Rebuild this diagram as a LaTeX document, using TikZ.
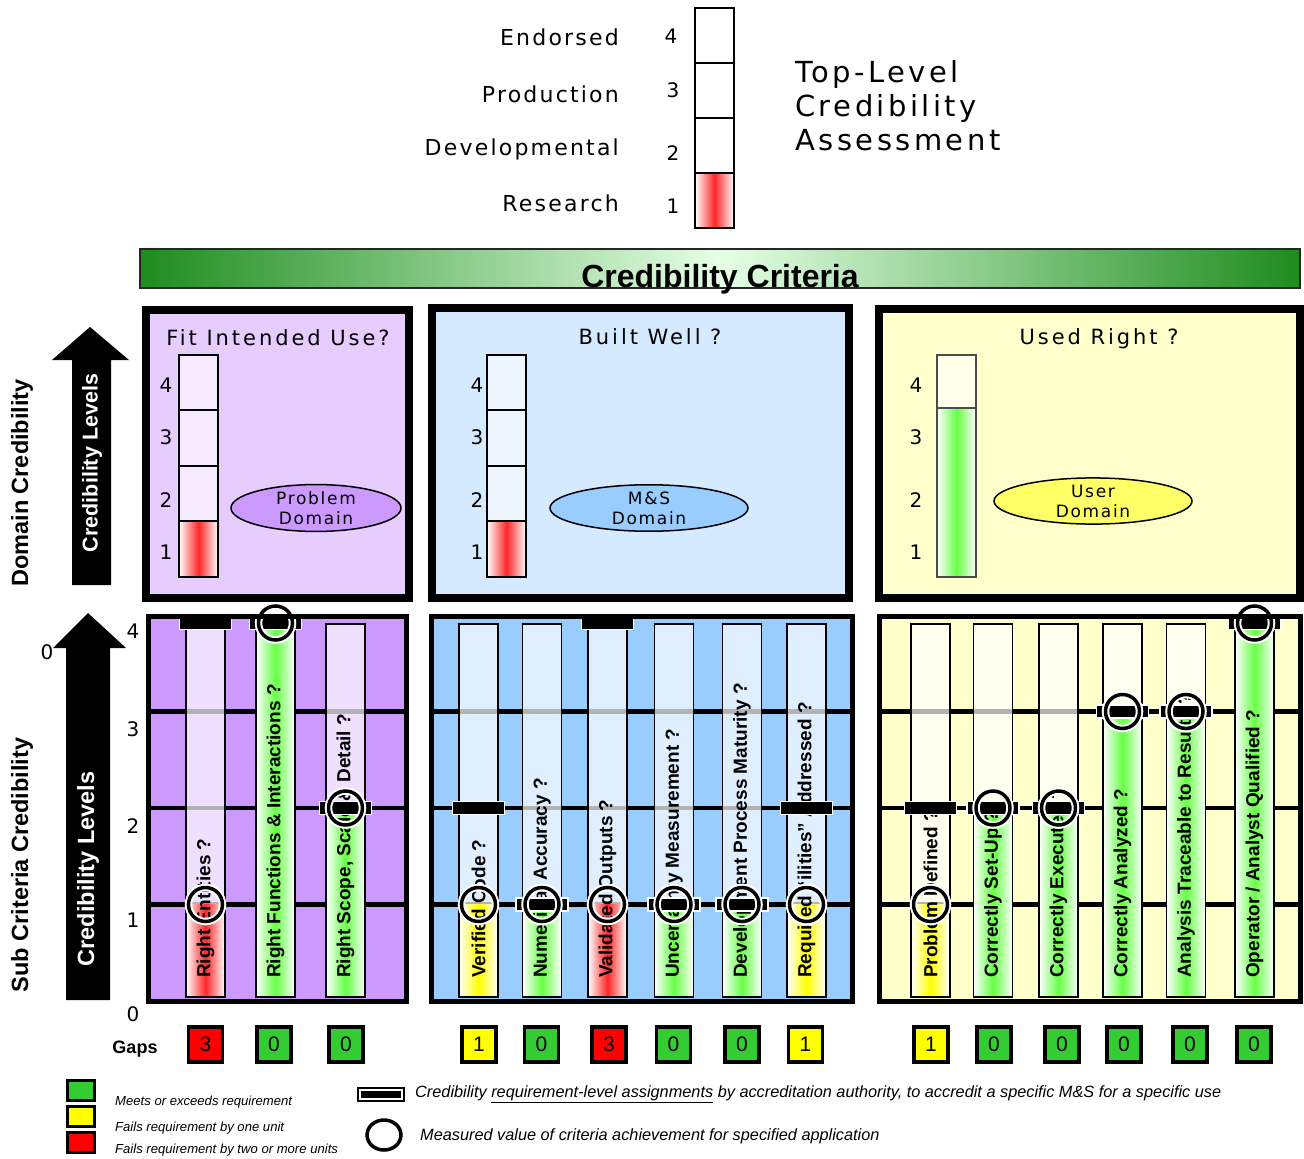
\documentclass[tikz,border=0pt]{standalone}
\usepackage{fontspec}
\setmainfont{Liberation Sans}
\newfontfamily\vfont[LetterSpace=10]{DejaVu Sans}
\newfontfamily\wfont[LetterSpace=14]{DejaVu Sans}
\newfontfamily\tfont[LetterSpace=12]{DejaVu Sans}
\newfontfamily\dfont{DejaVu Sans}
\usetikzlibrary{shapes.geometric}

\definecolor{purpleA}{HTML}{CC99FF}
\definecolor{purpleL}{HTML}{E6CCFF}
\definecolor{purpleE}{HTML}{CC99FF}
\definecolor{blueA}{HTML}{99CCFF}
\definecolor{blueL}{HTML}{D6EAFF}
\definecolor{blueE}{HTML}{99CCFF}
\definecolor{yellowA}{HTML}{FFFFCC}
\definecolor{yellowE}{HTML}{FFFF66}
\definecolor{okgreen}{HTML}{66FF44}
\definecolor{badred}{HTML}{FF2626}
\definecolor{warnyel}{HTML}{FFFF00}
\definecolor{gapgreen}{HTML}{33CC33}
\definecolor{gapred}{HTML}{FF0000}
\definecolor{gapyel}{HTML}{FFFF00}
\definecolor{bannergreen}{HTML}{1E8C1E}

\tikzset{
  barlabel/.style={rotate=90, anchor=west, inner sep=0pt,
    font=\fontsize{19}{22}\selectfont\bfseries},
  reqmark/.style={rectangle, fill=black, draw=white, line width=1.5pt,
    minimum width=52pt, minimum height=13pt, inner sep=0pt},
  measmark/.style={circle, minimum size=34pt, inner sep=0pt, draw=black,
    line width=3.5pt, preaction={draw=white, line width=7.5pt}},
  gapbox/.style={rectangle, draw=black, line width=3.5pt, minimum width=34pt,
    minimum height=35pt, inner sep=0pt, font=\fontsize{21}{24}\selectfont},
  axisnum/.style={inner sep=0pt, font=\dfont\fontsize{20}{24}\selectfont},
  domtitle/.style={anchor=base, inner sep=0pt, font=\wfont\fontsize{21}{24}\selectfont},
  domell/.style={ellipse, draw=black, line width=1.5pt, inner sep=0pt,
    align=center, font=\vfont\fontsize{17}{20}\selectfont},
  toplabel/.style={anchor=base east, inner sep=0pt, font=\vfont\fontsize{22}{24}\selectfont},
  sidelabel/.style={rotate=90, inner sep=0pt, font=\bfseries\fontsize{23.5}{26}\selectfont},
  legtext/.style={anchor=west, inner sep=0pt, font=\itshape\fontsize{13.1}{15}\selectfont},
  legtextb/.style={anchor=west, inner sep=0pt, font=\itshape\fontsize{16.3}{19}\selectfont},
}

% one sub-criterion column: id, x centre, measured level, fill colour,
% required level, label
\newcommand\critbar[6]{%
  \pgfmathsetmacro\yMeas{ifthenelse(#3==4,623,1001-96.5*#3)}%
  \pgfmathsetmacro\yReq{ifthenelse(#5==4,623,1001-96.5*#5)}%
  \pgfmathsetmacro\yFill{ifthenelse(#3==4,624,1001-96.5*#3)}%
  \fill[white, opacity=0.7] (#2-19.5,624) rectangle (#2+19.5,997);
  \shade[left color=white, right color=white, middle color=#4]
    (#2-19.5,\yFill) rectangle (#2+19.5,997);
  \draw[line width=1.8pt] (#2-19.5,624) rectangle (#2+19.5,997);
  \node[barlabel] (#1-t) at (#2,978) {#6};
  \node[reqmark] (#1-r) at (#2,\yReq) {};
  \node[measmark] (#1-m) at (#2,\yMeas) {};
}

% a four-level gauge: x left, fill colour of the achieved part, top of that part, border colour
\newcommand\gauge[4]{%
  \fill[white, opacity=0.6] (#1,355) rectangle (#1+39,577);
  \shade[left color=white, right color=white, middle color=#2] (#1,#3) rectangle (#1+39,577);
  \draw[line width=2.5pt, #4] (#1,355) rectangle (#1+39,577);
}

\begin{document}
\begin{tikzpicture}[x=1pt, y=-1pt]
\useasboundingbox (0,0) rectangle (1304,1159);
\fill[white] (0,0) rectangle (1304,1159);

% ---------- top-level gauge ----------
\fill[white] (695,8) rectangle (734,228);
\shade[left color=white, right color=white, middle color=badred] (695,173) rectangle (734,228);
\draw[line width=2.5pt] (695,8) rectangle (734,228);
\foreach \y in {63,118,173} \draw[line width=2.5pt] (695,\y) -- (734,\y);

\node[toplabel] (lvE) at (619,45) {Endorsed};
\node[toplabel] (lvP) at (619,102) {Production};
\node[toplabel] (lvD) at (619,155) {Developmental};
\node[toplabel] (lvR) at (619,211) {Research};
\node[axisnum, anchor=base] (tn4) at (671,43) {4};
\node[axisnum, anchor=base] (tn3) at (673,97) {3};
\node[axisnum, anchor=base] (tn2) at (673,160) {2};
\node[axisnum, anchor=base] (tn1) at (673,213) {1};

\node[anchor=base west, inner sep=0pt, font=\tfont\fontsize{29}{32}\selectfont] (tl1) at (795,82) {Top-Level};
\node[anchor=base west, inner sep=0pt, font=\tfont\fontsize{29}{32}\selectfont] (tl2) at (795,116) {Credibility};
\node[anchor=base west, inner sep=0pt, font=\tfont\fontsize{29}{32}\selectfont] (tl3) at (795,150) {Assessment};

% ---------- criteria banner ----------
\shade[left color=bannergreen, right color=bannergreen, middle color=white!90!green]
  (140,249) rectangle (1300,288);
\draw[line width=1.5pt, black!85] (140,249) rectangle (1300,288);
\node[anchor=base, inner sep=0pt, font=\bfseries\fontsize{32}{34}\selectfont] (crit) at (720,287) {Credibility Criteria};

% ---------- side arrows ----------
\fill[black] (72,585) -- (72,360) -- (52,360) -- (90,327) -- (129,360) -- (111,360) -- (111,585) -- cycle;
\node[sidelabel, text=white, font=\bfseries\fontsize{21.5}{24}\selectfont] (cl1) at (92,463) {Credibility Levels};
\node[sidelabel] (dc) at (22,483) {Domain Credibility};

\node[axisnum] (zeroL) at (47,652) {0};
\fill[black] (66,1000) -- (66,648) -- (53,648) -- (88,613) -- (126,648) -- (110,648) -- (110,1000) -- cycle;
\node[sidelabel, text=white] (cl2) at (88,869) {Credibility Levels};
\node[sidelabel] (scc) at (22,865) {Sub Criteria Credibility};

\node[axisnum] (an4) at (133,631) {4};
\node[axisnum] (an3) at (133,729) {3};
\node[axisnum] (an2) at (133,826) {2};
\node[axisnum] (an1) at (133,920) {1};
\node[axisnum] (an0) at (133,1014) {0};

% ---------- domain panels ----------
\fill[purpleL] (146,310) rectangle (409,598);
\draw[line width=8pt] (146,310) rectangle (409,598);
\node[domtitle] (t1) at (278,345) {Fit Intended Use?};
\gauge{179}{badred}{521}{black}
\foreach \y in {410,466,521} \draw[line width=2.5pt] (179,\y) -- (218,\y);
\node[axisnum] (p1n4) at (166,385) {4};
\node[axisnum] (p1n3) at (166,437) {3};
\node[axisnum] (p1n2) at (166,500) {2};
\node[axisnum] (p1n1) at (166,552) {1};
\node[domell, fill=purpleE, minimum width=170pt, minimum height=46pt] (e1) at (316,508) {Problem\\Domain};

\fill[blueL] (432,308) rectangle (849,598);
\draw[line width=8pt] (432,308) rectangle (849,598);
\node[domtitle] (t2) at (650,344) {Built Well ?};
\gauge{487}{badred}{521}{black}
\foreach \y in {410,466,521} \draw[line width=2.5pt] (487,\y) -- (526,\y);
\node[axisnum] (p2n4) at (477,385) {4};
\node[axisnum] (p2n3) at (477,437) {3};
\node[axisnum] (p2n2) at (477,500) {2};
\node[axisnum] (p2n1) at (477,552) {1};
\node[domell, fill=blueE, minimum width=198pt, minimum height=44pt] (e2) at (649,508) {M\&S\\Domain};

\fill[yellowA] (879,309) rectangle (1300,598);
\draw[line width=8pt] (879,309) rectangle (1300,598);
\node[domtitle] (t3) at (1099,344) {Used Right ?};
\gauge{937}{okgreen}{408}{black!70}
\draw[line width=2.5pt, black!70] (937,408) -- (976,408);
\node[axisnum] (p3n4) at (916,385) {4};
\node[axisnum] (p3n3) at (916,437) {3};
\node[axisnum] (p3n2) at (916,500) {2};
\node[axisnum] (p3n1) at (916,552) {1};
\node[domell, fill=yellowE, minimum width=198pt, minimum height=44pt] (e3) at (1093,501) {User\\Domain};

% ---------- sub-criteria panels ----------
\fill[purpleA] (148,616) rectangle (407,1002);
\foreach \v in {1,2,3} \draw[line width=4.5pt] (148,{1001-96.5*\v}) -- (407,{1001-96.5*\v});
\critbar{a1}{205.5}{1}{badred}{4}{Right Entities ?}
\critbar{a2}{275.5}{4}{okgreen}{4}{Right Functions \& Interactions ?}
\critbar{a3}{345.5}{2}{okgreen}{2}{Right Scope, Scale \& Detail ?}
\draw[line width=5pt] (148.5,616.5) rectangle (406.5,1001.5);

\fill[blueA] (431,616) rectangle (853,1002);
\foreach \v in {1,2,3} \draw[line width=4.5pt] (431,{1001-96.5*\v}) -- (853,{1001-96.5*\v});
\critbar{b1}{478.5}{1}{warnyel}{2}{Verified Code ?}
\critbar{b2}{542}{1}{okgreen}{1}{Numerical Accuracy ?}
\critbar{b3}{607.5}{1}{badred}{4}{Validated Outputs ?}
\critbar{b4}{674}{1}{okgreen}{1}{Uncertainty Measurement ?}
\critbar{b5}{742}{1}{okgreen}{1}{Development Process Maturity ?}
\critbar{b6}{806.5}{1}{warnyel}{2}{Required “ilities” Addressed ?}
\draw[line width=5pt] (431.5,616.5) rectangle (852.5,1001.5);

\fill[yellowA] (879,616) rectangle (1301,1002);
\foreach \v in {1,2,3} \draw[line width=4.5pt] (879,{1001-96.5*\v}) -- (1301,{1001-96.5*\v});
\critbar{c1}{930.5}{1}{warnyel}{2}{Problem Defined ?}
\critbar{c2}{993}{2}{okgreen}{2}{Correctly Set-Up ?}
\critbar{c3}{1058.5}{2}{okgreen}{2}{Correctly Executed ?}
\critbar{c4}{1122.5}{3}{okgreen}{3}{Correctly Analyzed ?}
\critbar{c5}{1186}{3}{okgreen}{3}{Analysis Traceable to Results ?}
\critbar{c6}{1254.5}{4}{okgreen}{4}{Operator / Analyst Qualified ?}
\draw[line width=5pt] (879.5,616.5) rectangle (1300.5,1001.5);

% ---------- gaps ----------
\node[inner sep=0pt, font=\bfseries\fontsize{18}{20}\selectfont] (gaps) at (135,1049) {Gaps};
\node[gapbox, fill=gapred] (g1) at (205.5,1044.5) {3};
\node[gapbox, fill=gapgreen] (g2) at (274,1044.5) {0};
\node[gapbox, fill=gapgreen] (g3) at (346,1044.5) {0};
\node[gapbox, fill=gapyel] (g4) at (479,1044.5) {1};
\node[gapbox, fill=gapgreen] (g5) at (541.5,1044.5) {0};
\node[gapbox, fill=gapred] (g6) at (609,1044.5) {3};
\node[gapbox, fill=gapgreen] (g7) at (673.5,1044.5) {0};
\node[gapbox, fill=gapgreen] (g8) at (742,1044.5) {0};
\node[gapbox, fill=gapyel] (g9) at (805.5,1044.5) {1};
\node[gapbox, fill=gapyel] (g10) at (931,1044.5) {1};
\node[gapbox, fill=gapgreen] (g11) at (994,1044.5) {0};
\node[gapbox, fill=gapgreen] (g12) at (1062,1044.5) {0};
\node[gapbox, fill=gapgreen] (g13) at (1124,1044.5) {0};
\node[gapbox, fill=gapgreen] (g14) at (1190,1044.5) {0};
\node[gapbox, fill=gapgreen] (g15) at (1254,1044.5) {0};

% ---------- legend ----------
\node[rectangle, draw=black, line width=3pt, fill=gapgreen, minimum width=27pt, minimum height=20pt, inner sep=0pt] (lg) at (80.5,1090) {};
\node[rectangle, draw=black, line width=3pt, fill=gapyel, minimum width=27pt, minimum height=20pt, inner sep=0pt] (ly) at (80.5,1116.5) {};
\node[rectangle, draw=black, line width=3pt, fill=gapred, minimum width=27pt, minimum height=20pt, inner sep=0pt] (lr) at (80.5,1142) {};
\node[legtext] (lgt) at (115,1102) {Meets or exceeds requirement};
\node[legtext] (lyt) at (115,1128) {Fails requirement by one unit};
\node[legtext] (lrt) at (115,1150) {Fails requirement by two or more units};

\node[rectangle, fill=black, minimum width=48pt, minimum height=15pt, inner sep=0pt] (lreq) at (381,1094.5) {};
\draw[white, line width=1.5pt] (360,1090) rectangle (402,1099);
\node[legtextb] (lreqt) at (415,1094) {Credibility \underline{requirement-level assignments} by accreditation authority, to accredit a specific M\&S for a specific use};

\node[ellipse, draw=black, line width=3.5pt, minimum width=34pt, minimum height=30pt, inner sep=0pt] (lmeas) at (384,1135) {};
\node[legtextb] (lmeast) at (420,1136) {Measured value of criteria achievement for specified application};
\end{tikzpicture}
\end{document}
